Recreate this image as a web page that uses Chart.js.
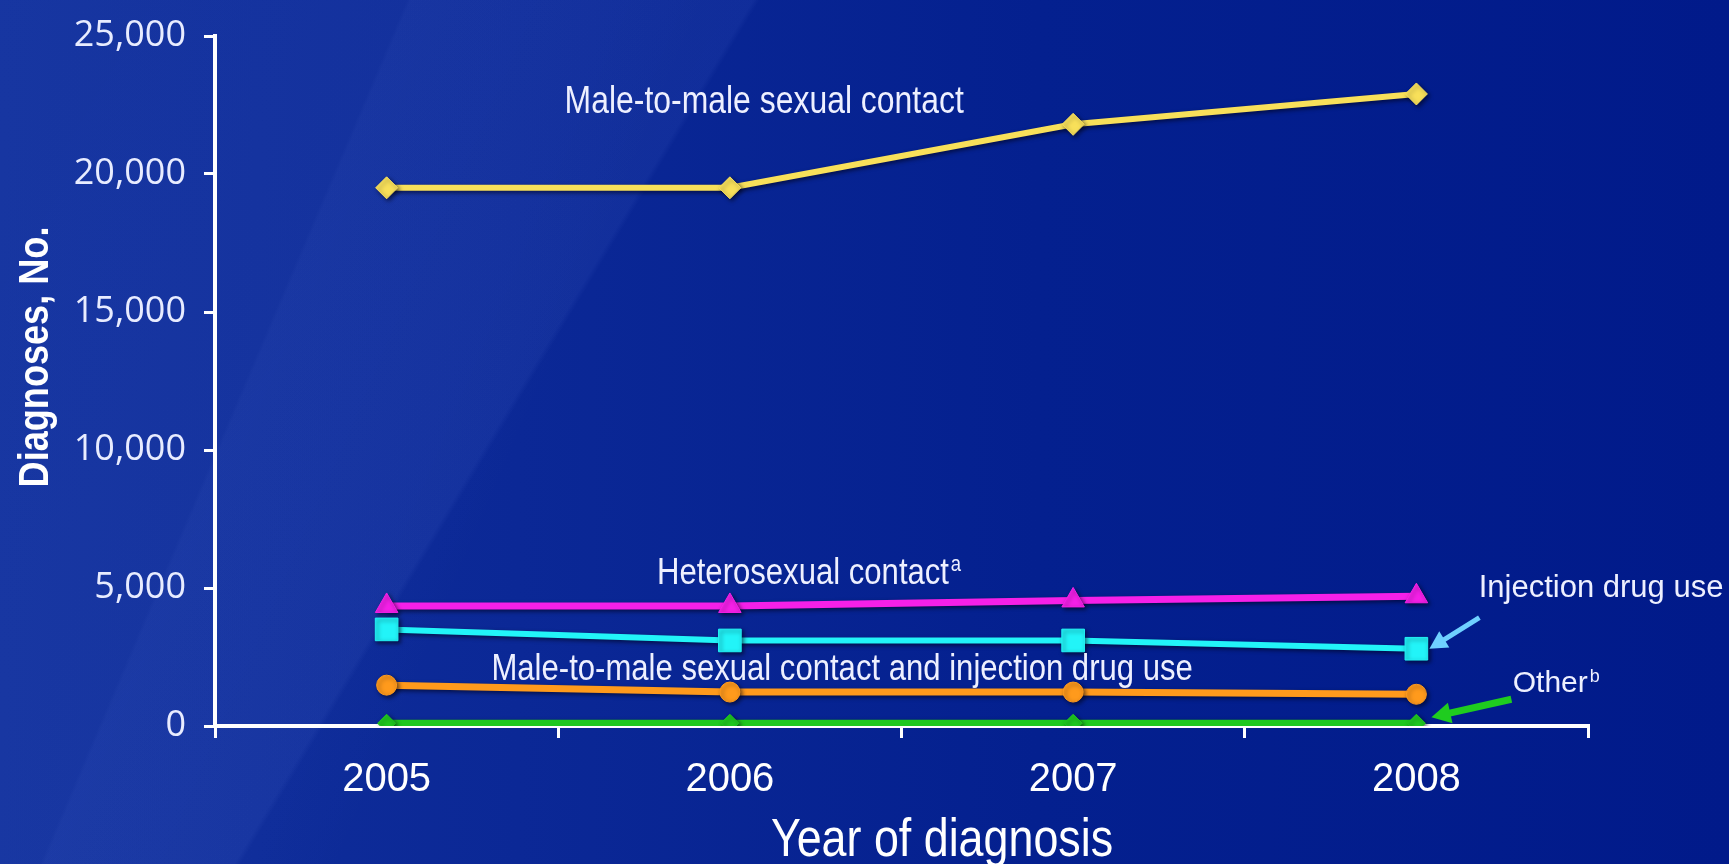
<!DOCTYPE html>
<html>
<head>
<meta charset="utf-8">
<script src="https://cdn.jsdelivr.net/npm/chart.js@4.4.1/dist/chart.umd.min.js"></script>
<style>
  html, body { margin: 0; padding: 0; overflow: hidden; }
  body {
    width: 1729px;
    height: 864px;
    background:
      linear-gradient(113deg, rgba(0,0,0,0) 0%, rgba(0,0,0,0) 19.4%, rgba(130,160,255,0.04) 19.6%, rgba(130,160,255,0.015) 30%, rgba(0,0,0,0) 34%),
      linear-gradient(121deg, rgba(130,160,255,0.05) 0%, rgba(130,160,255,0.07) 33.5%, rgba(0,0,0,0) 33.8%),
      linear-gradient(to right, #11309c 0%, #0b2896 30%, #04208f 60%, #011a8a 100%);
  }
  canvas { display: block; }
</style>
</head>
<body>
<canvas id="chart" width="1729" height="864"></canvas>
<script>
// data
const years = ["2005", "2006", "2007", "2008"];
const maleToMale = [19500, 19500, 21800, 22900];
const heterosexual = [4350, 4350, 4550, 4700];
const injectionDrug = [3500, 3100, 3100, 2800];
const maleToMaleIdu = [1480, 1230, 1230, 1150];
const other = [100, 100, 100, 100];

const yMax = 25000;
const yStep = 5000;

const sans = "'Liberation Sans', Arial, sans-serif";
// the slide font is a condensed one, so our text is squeezed sideways
const squeeze = 0.84;

// shadow under lines
const lineShadow = {
    id: "lineShadow",
    beforeDatasetsDraw(chart) {
        const ctx = chart.ctx;
        ctx.save();
        ctx.shadowColor = "rgba(0, 0, 20, 0.6)";
        ctx.shadowBlur = 4;
        ctx.shadowOffsetX = 2;
        ctx.shadowOffsetY = 2;
    },
    afterDatasetsDraw(chart) {
        chart.ctx.restore();
    }
};

function drawArrow(ctx, x1, y1, x2, y2, color, width, head) {
    const a = Math.atan2(y2 - y1, x2 - x1);
    ctx.save();
    ctx.strokeStyle = color;
    ctx.fillStyle = color;
    ctx.lineWidth = width;
    ctx.beginPath();
    ctx.moveTo(x1, y1);
    ctx.lineTo(x2 - Math.cos(a) * head * 0.8, y2 - Math.sin(a) * head * 0.8);
    ctx.stroke();
    ctx.beginPath();
    ctx.moveTo(x2, y2);
    ctx.lineTo(x2 - Math.cos(a - 0.5) * head, y2 - Math.sin(a - 0.5) * head);
    ctx.lineTo(x2 - Math.cos(a + 0.5) * head, y2 - Math.sin(a + 0.5) * head);
    ctx.closePath();
    ctx.fill();
    ctx.restore();
}

// centred text, optional superscript, optional horizontal squeeze
function drawLabel(ctx, text, sup, x, y, size, sx) {
    ctx.save();
    ctx.translate(x, y);
    ctx.scale(sx, 1);
    ctx.font = size + "px " + sans;
    const w = ctx.measureText(text).width;
    ctx.textAlign = "left";
    ctx.textBaseline = "middle";
    ctx.fillText(text, -w / 2, 0);
    if (sup) {
        ctx.font = Math.round(size * 0.6) + "px " + sans;
        ctx.fillText(sup, w / 2 + 2, -size * 0.25);
    }
    ctx.restore();
}

// labels, arrows and axis titles
const annotations = {
    id: "annotations",
    afterDatasetsDraw(chart) {
        const ctx = chart.ctx;
        const x = chart.scales.x;
        const y = chart.scales.y;
        ctx.save();
        ctx.fillStyle = "#eef0ff";

        drawLabel(ctx, "Male-to-male sexual contact", null,
            x.getPixelForValue(1.10), y.getPixelForValue(22600), 38, squeeze);
        drawLabel(ctx, "Heterosexual contact", "a",
            x.getPixelForValue(1.213), y.getPixelForValue(5500), 37, squeeze);
        drawLabel(ctx, "Male-to-male sexual contact and injection drug use", null,
            x.getPixelForValue(1.327), y.getPixelForValue(2020), 37, squeeze);
        drawLabel(ctx, "Injection drug use", null,
            x.getPixelForValue(3.538), y.getPixelForValue(4980), 31, 1);
        drawLabel(ctx, "Other", "b",
            x.getPixelForValue(3.39), y.getPixelForValue(1520), 30, 1);

        // arrows to the 2008 points
        const cx = x.getPixelForValue(3) + 13;
        const cy = y.getPixelForValue(injectionDrug[3]);
        drawArrow(ctx, cx + 50, cy - 31, cx, cy, "#6fd0ff", 5, 20);
        const gx = x.getPixelForValue(3) + 15;
        const gy = y.getPixelForValue(other[3]) - 6;
        drawArrow(ctx, gx + 80, gy - 18, gx, gy, "#1fcc1f", 7, 22);

        // axis titles
        ctx.fillStyle = "#ffffff";
        ctx.textAlign = "center";
        ctx.textBaseline = "alphabetic";

        ctx.save();
        ctx.translate(942, 856);
        ctx.scale(0.83, 1);
        ctx.font = "54px " + sans;
        ctx.fillText("Year of diagnosis", 0, 0);
        ctx.restore();

        ctx.save();
        ctx.translate(48, 357);
        ctx.rotate(-Math.PI / 2);
        ctx.scale(squeeze, 1);
        ctx.font = "bold 43px " + sans;
        ctx.fillText("Diagnoses, No.", 0, 0);
        ctx.restore();

        ctx.restore();
    }
};

function series(label, data, color, style, radius, width) {
    return {
        label: label,
        data: data,
        borderColor: color,
        backgroundColor: color,
        pointBackgroundColor: color,
        pointBorderColor: color,
        pointStyle: style,
        pointRadius: radius,
        pointBorderWidth: 1,
        borderWidth: width,
        tension: 0
    };
}

new Chart(document.getElementById("chart"), {
    type: "line",
    data: {
        labels: years,
        datasets: [
            series("Other", other, "#1fc81f", "rectRot", 9, 7),
            series("Male-to-male sexual contact and injection drug use", maleToMaleIdu, "#ff9a1c", "circle", 10, 7),
            series("Injection drug use", injectionDrug, "#22f4f8", "rect", 16, 6),
            series("Heterosexual contact", heterosexual, "#f520e8", "triangle", 13, 7),
            series("Male-to-male sexual contact", maleToMale, "#f8e05a", "rectRot", 11, 6)
        ]
    },
    options: {
        responsive: false,
        animation: false,
        devicePixelRatio: 1,
        layout: { padding: { top: 20, right: 141, left: 0, bottom: 0 } },
        plugins: {
            legend: { display: false },
            tooltip: { enabled: false }
        },
        scales: {
            x: {
                offset: true,
                afterFit: (s) => { s.height = 138; },
                border: { color: "#ffffff", width: 4 },
                grid: {
                    offset: true,
                    drawOnChartArea: false,
                    drawTicks: true,
                    tickLength: 12,
                    color: "#ffffff",
                    lineWidth: 3
                },
                ticks: {
                    color: "#ffffff",
                    padding: 18,
                    font: { family: sans, size: 40 }
                }
            },
            y: {
                min: 0,
                max: yMax,
                afterFit: (s) => { s.width = 215; },
                border: { color: "#ffffff", width: 4 },
                grid: {
                    drawOnChartArea: false,
                    drawTicks: true,
                    tickLength: 11,
                    color: "#ffffff",
                    lineWidth: 3
                },
                ticks: {
                    stepSize: yStep,
                    color: "#e8ecff",
                    padding: 18,
                    font: { family: "'Open Sans', sans-serif", size: 36, lineHeight: 1 }
                }
            }
        }
    },
    plugins: [lineShadow, annotations]
});
</script>
</body>
</html>
